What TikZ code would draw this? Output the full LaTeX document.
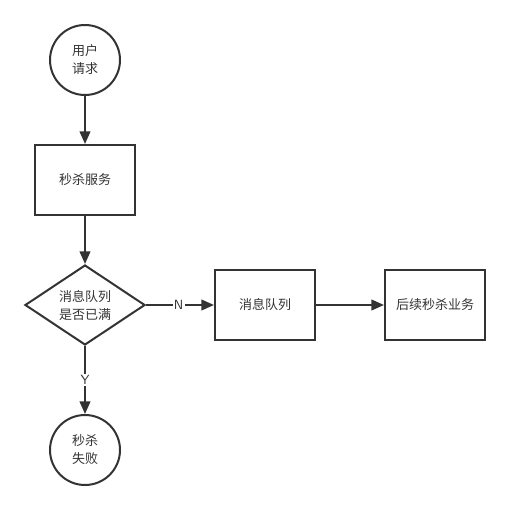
\documentclass[tikz,border=0pt]{standalone}
\usepackage{fontspec}
\newfontfamily\cjk{Noto Sans CJK SC}
\usetikzlibrary{arrows.meta,shapes.geometric}
\definecolor{ln}{HTML}{333333}
\tikzset{
  base/.style={draw=ln, line width=1.5pt, font=\cjk\fontsize{9.75pt}{13.5pt}\selectfont, text=ln, align=center, inner sep=0pt},
  term/.style={base, circle, minimum size=52.5pt},
  proc/.style={base, rectangle, minimum width=75pt, minimum height=52.5pt},
  dec/.style={base, diamond, minimum width=90pt, minimum height=60pt, aspect=1.5},
  conn/.style={draw=ln, line width=1.5pt, -{Triangle[length=9.5pt,width=8pt]}},
  lab/.style={fill=white, text=ln, font=\sffamily\fontsize{10pt}{11pt}\selectfont, inner sep=1pt}
}
\begin{document}
\begin{tikzpicture}[x=0.75pt,y=-0.75pt]
\useasboundingbox (0,0) rectangle (510,510);
\node[term] (start) at (85,60) {用户\\请求};
\node[proc] (svc) at (85,180) {秒杀服务};
\node[dec] (q) at (85,305) {消息队列\\是否已满};
\node[proc] (mq) at (265,305) {消息队列};
\node[proc] (next) at (435,305) {后续秒杀业务};
\node[term] (fail) at (85,450) {秒杀\\失败};
\draw[conn] (start) -- (svc);
\draw[conn] (svc) -- (q);
\draw[conn] (q) -- node[lab, pos=0.48] {N} (mq);
\draw[conn] (mq) -- (next);
\draw[conn] (q) -- node[lab, pos=0.5] {Y} (fail);
\end{tikzpicture}
\end{document}
